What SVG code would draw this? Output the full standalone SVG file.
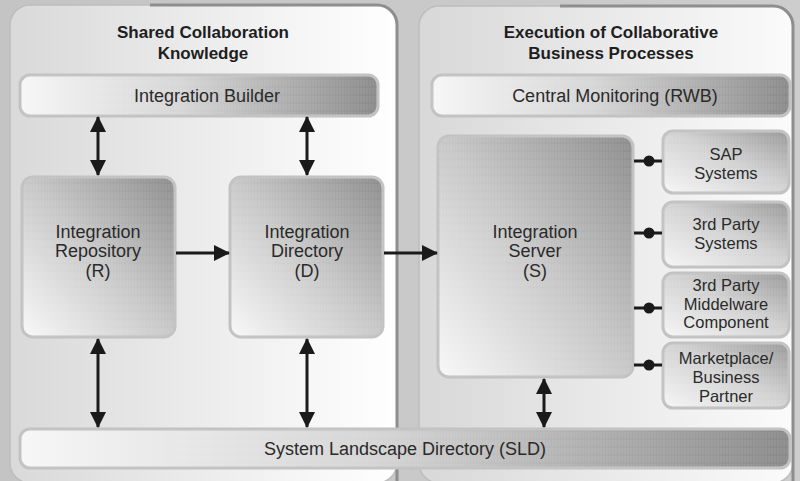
<svg xmlns="http://www.w3.org/2000/svg" width="800" height="481" viewBox="0 0 800 481">
<defs>
<linearGradient id="bg" x1="0" y1="0" x2="1" y2="0"><stop offset="0" stop-color="#c4c4c4"/><stop offset="1" stop-color="#cdcdcd"/></linearGradient>
<linearGradient id="panelL" x1="0" y1="0" x2="1" y2="0"><stop offset="0" stop-color="#d9d9d9"/><stop offset="1" stop-color="#ffffff"/></linearGradient>
<linearGradient id="panelR" x1="0" y1="0" x2="1" y2="0"><stop offset="0" stop-color="#d8d8d8"/><stop offset="1" stop-color="#fbfbfb"/></linearGradient>
<linearGradient id="bar" x1="0" y1="0" x2="1" y2="0"><stop offset="0" stop-color="#f6f6f6"/><stop offset="0.45" stop-color="#d6d6d6"/><stop offset="1" stop-color="#8a8a8a"/></linearGradient>
<linearGradient id="tall" x1="0" y1="1" x2="1" y2="0"><stop offset="0" stop-color="#f8f8f8"/><stop offset="0.5" stop-color="#c8c8c8"/><stop offset="1" stop-color="#8c8c8c"/></linearGradient>
<linearGradient id="small" x1="0" y1="1" x2="1" y2="0"><stop offset="0" stop-color="#f6f6f6"/><stop offset="0.55" stop-color="#d0d0d0"/><stop offset="1" stop-color="#999999"/></linearGradient>
<pattern id="hatch" width="3" height="8" patternUnits="userSpaceOnUse"><line x1="1" y1="0" x2="1" y2="6" stroke="#ffffff" stroke-opacity="0.12" stroke-width="1"/></pattern>
<marker id="ah" viewBox="0 0 16 16" refX="15" refY="8" markerWidth="16" markerHeight="16" markerUnits="userSpaceOnUse" orient="auto-start-reverse"><path d="M0,0 L16,8 L0,16 Z" fill="#1a1a1a"/></marker>
</defs>
<style>
.title{font-family:"Liberation Sans",Arial,sans-serif;font-weight:bold;font-size:17px;fill:#1e1e1e;text-anchor:middle}
.lbl{font-family:"Liberation Sans",Arial,sans-serif;font-size:18px;fill:#2a2a2a;text-anchor:middle}
.sl{font-family:"Liberation Sans",Arial,sans-serif;font-size:16.5px;fill:#2a2a2a;text-anchor:middle}
.box{stroke:#c2c2c2;stroke-width:3}
.bar{fill:url(#bar)}
.tall{fill:url(#tall)}
.small{fill:url(#small)}
.tex{fill:url(#hatch);stroke:none}
.conn{stroke:#1a1a1a;stroke-width:3;fill:none}
.dot{fill:#1a1a1a}
</style>
<rect x="0" y="0" width="800" height="481" fill="url(#bg)"/>
<g id="panel-left">
<rect x="10" y="5" width="387" height="478" rx="20" fill="url(#panelL)" stroke="#bdbdbd" stroke-width="1.5"/>
<path d="M150,5 H377 A20,20 0 0 1 397,25 V483" fill="none" stroke="#8e8e8e" stroke-width="3"/>
<text class="title" x="203" y="38">Shared Collaboration</text>
<text class="title" x="203" y="59">Knowledge</text>
</g>
<g id="panel-right">
<rect x="419" y="6" width="374" height="477" rx="20" fill="url(#panelR)" stroke="#bdbdbd" stroke-width="1.5"/>
<path d="M560,6 H773 A20,20 0 0 1 793,26 V483" fill="none" stroke="#8e8e8e" stroke-width="3"/>
<text class="title" x="611" y="38">Execution of Collaborative</text>
<text class="title" x="611" y="59">Business Processes</text>
</g>
<g id="integration-builder">
<rect class="box bar" x="20" y="75" width="358" height="41" rx="10"/>
<rect class="tex" x="20" y="75" width="358" height="41" rx="10"/>
<text class="lbl" x="207" y="102">Integration Builder</text>
</g>
<g id="central-monitoring">
<rect class="box bar" x="432" y="75" width="358" height="41" rx="10"/>
<rect class="tex" x="432" y="75" width="358" height="41" rx="10"/>
<text class="lbl" x="615" y="102">Central Monitoring (RWB)</text>
</g>
<g id="integration-repository">
<rect class="box tall" x="22" y="177" width="153" height="160" rx="11"/>
<rect class="tex" x="22" y="177" width="153" height="160" rx="11"/>
<text class="lbl" x="98" y="238">Integration</text>
<text class="lbl" x="98" y="257">Repository</text>
<text class="lbl" x="98" y="277">(R)</text>
</g>
<g id="integration-directory">
<rect class="box tall" x="230" y="177" width="153" height="160" rx="11"/>
<rect class="tex" x="230" y="177" width="153" height="160" rx="11"/>
<text class="lbl" x="307" y="238">Integration</text>
<text class="lbl" x="307" y="257">Directory</text>
<text class="lbl" x="307" y="277">(D)</text>
</g>
<g id="integration-server">
<rect class="box tall" x="438" y="136" width="195" height="241" rx="11"/>
<rect class="tex" x="438" y="136" width="195" height="241" rx="11"/>
<text class="lbl" x="535" y="238">Integration</text>
<text class="lbl" x="535" y="257">Server</text>
<text class="lbl" x="535" y="277">(S)</text>
</g>
<g id="sap-systems">
<rect class="box small" x="663" y="131" width="126" height="62" rx="10"/>
<rect class="tex" x="663" y="131" width="126" height="62" rx="10"/>
<text class="sl" x="726" y="160">SAP</text>
<text class="sl" x="726" y="179">Systems</text>
</g>
<g id="third-party-systems">
<rect class="box small" x="663" y="202" width="126" height="65" rx="10"/>
<rect class="tex" x="663" y="202" width="126" height="65" rx="10"/>
<text class="sl" x="726" y="230">3rd Party</text>
<text class="sl" x="726" y="248.5">Systems</text>
</g>
<g id="third-party-middleware">
<rect class="box small" x="663" y="273" width="126" height="64" rx="10"/>
<rect class="tex" x="663" y="273" width="126" height="64" rx="10"/>
<text class="sl" x="726" y="291">3rd Party</text>
<text class="sl" x="726" y="309.5">Middelware</text>
<text class="sl" x="726" y="328">Component</text>
</g>
<g id="marketplace">
<rect class="box small" x="663" y="343" width="126" height="65" rx="10"/>
<rect class="tex" x="663" y="343" width="126" height="65" rx="10"/>
<text class="sl" x="726" y="364">Marketplace/</text>
<text class="sl" x="726" y="383">Business</text>
<text class="sl" x="726" y="402">Partner</text>
</g>
<g id="sld">
<rect class="box bar" x="20" y="429" width="770" height="39" rx="10"/>
<rect class="tex" x="20" y="429" width="770" height="39" rx="10"/>
<text class="lbl" x="405" y="455">System Landscape Directory (SLD)</text>
</g>
<g id="connectors">
<line class="conn" x1="98" y1="117" x2="98" y2="175" marker-start="url(#ah)" marker-end="url(#ah)"/>
<line class="conn" x1="307" y1="117" x2="307" y2="175" marker-start="url(#ah)" marker-end="url(#ah)"/>
<line class="conn" x1="98" y1="339" x2="98" y2="427" marker-start="url(#ah)" marker-end="url(#ah)"/>
<line class="conn" x1="307" y1="339" x2="307" y2="427" marker-start="url(#ah)" marker-end="url(#ah)"/>
<line class="conn" x1="544" y1="379" x2="544" y2="427" marker-start="url(#ah)" marker-end="url(#ah)"/>
<line class="conn" x1="176" y1="253" x2="229" y2="253" marker-end="url(#ah)"/>
<line class="conn" x1="384" y1="253" x2="437" y2="253" marker-end="url(#ah)"/>
<line class="conn" x1="634" y1="161" x2="662" y2="161"/>
<circle class="dot" cx="649" cy="161" r="5.5"/>
<line class="conn" x1="634" y1="233" x2="662" y2="233"/>
<circle class="dot" cx="649" cy="233" r="5.5"/>
<line class="conn" x1="634" y1="308" x2="662" y2="308"/>
<circle class="dot" cx="649" cy="308" r="5.5"/>
<line class="conn" x1="634" y1="365" x2="662" y2="365"/>
<circle class="dot" cx="649" cy="365" r="5.5"/>
</g>
</svg>
